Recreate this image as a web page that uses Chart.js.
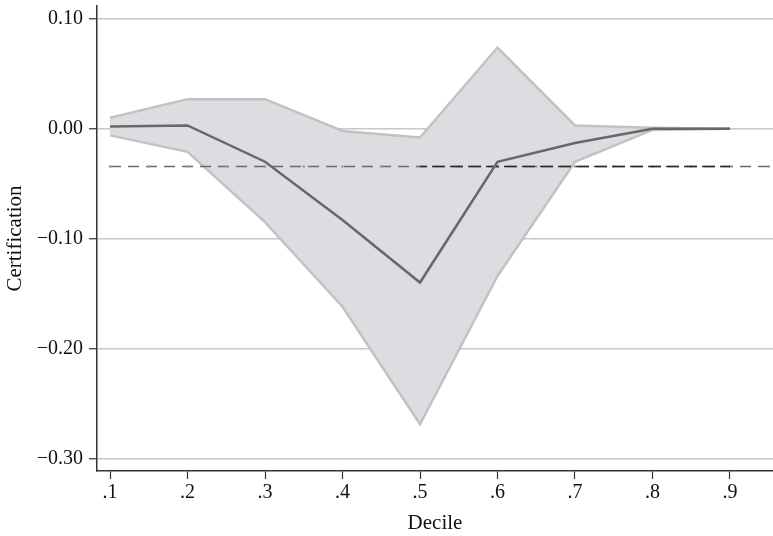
<!DOCTYPE html>
<html>
<head>
<meta charset="utf-8">
<script src="https://cdn.jsdelivr.net/npm/chart.js@4/dist/chart.umd.min.js"></script>
<style>
  body { margin: 0; background: #fff; }
  canvas { display: block; }
</style>
</head>
<body>
<canvas id="chart" width="773" height="536"></canvas>
<script>
// Deciles and estimates
const deciles = [0.1, 0.2, 0.3, 0.4, 0.5, 0.6, 0.7, 0.8, 0.9];
const estimate = [0.002, 0.003, -0.030, -0.083, -0.140, -0.030, -0.013, 0.000, 0.000];
const upperCI = [0.010, 0.027, 0.027, -0.002, -0.008, 0.074, 0.003, 0.001, 0.000];
const lowerCI = [-0.006, -0.021, -0.085, -0.162, -0.269, -0.134, -0.030, -0.001, 0.000];

// Horizontal reference (mean) line with small markers
const refX = [0.1, 0.15, 0.2, 0.25, 0.3, 0.35, 0.4, 0.45, 0.5, 0.55, 0.6, 0.65, 0.7, 0.75, 0.8, 0.85, 0.9, 0.95];
const refX2 = [0.5, 0.55, 0.6, 0.65, 0.7, 0.75, 0.8, 0.85, 0.9];
const refValue = -0.0343;

const yTicks = [-0.3, -0.2, -0.1, 0.0, 0.1];
const xTicks = [0.1, 0.2, 0.3, 0.4, 0.5, 0.6, 0.7, 0.8, 0.9];

const toPts = (xs, ys) => xs.map((x, i) => ({ x: x, y: ys[i] }));
const flat = (xs, v) => xs.map(x => ({ x: x, y: v }));

const serif = "'Liberation Serif', 'DejaVu Serif', serif";

const ctx = document.getElementById('chart').getContext('2d');
new Chart(ctx, {
  type: 'line',
  data: {
    datasets: [
      {
        label: 'Estimate',
        data: toPts(deciles, estimate),
        borderColor: '#686868',
        borderWidth: 2.5,
        pointRadius: 0,
        fill: false,
        order: 0
      },
      {
        label: 'Mean',
        data: flat(refX, refValue),
        borderColor: '#6a6a6a',
        borderWidth: 1.6,
        borderDash: [11, 7],
        pointRadius: 1.3,
        pointBackgroundColor: '#999',
        pointBorderWidth: 0,
        fill: false,
        order: 2
      },
      {
        label: 'Mean overlay',
        data: flat(refX2, refValue),
        borderColor: '#2a2a2a',
        borderWidth: 1.6,
        borderDash: [13, 5],
        borderDashOffset: 6,
        pointRadius: 0,
        fill: false,
        order: 1
      },
      {
        label: 'Upper',
        data: toPts(deciles, upperCI),
        borderColor: '#c2c2c2',
        borderWidth: 2.5,
        backgroundColor: '#dcdde0',
        pointRadius: 0,
        fill: '+1',
        order: 4
      },
      {
        label: 'Lower',
        data: toPts(deciles, lowerCI),
        borderColor: '#c2c2c2',
        borderWidth: 2.5,
        pointRadius: 0,
        fill: false,
        order: 3
      }
    ]
  },
  options: {
    responsive: false,
    animation: false,
    layout: { autoPadding: false, padding: { top: 6, right: 0, left: 0, bottom: 0 } },
    plugins: {
      legend: { display: false },
      tooltip: { enabled: false }
    },
    scales: {
      x: {
        type: 'linear',
        min: 0.0832,
        max: 0.9555,
        afterBuildTicks: axis => { axis.ticks = xTicks.map(v => ({ value: v })); },
        afterFit: axis => {
          axis.height = 65;
          axis.paddingLeft = 0;
          axis.paddingRight = 0;
        },
        border: { color: '#333', width: 1.5 },
        grid: { drawOnChartArea: false, tickLength: 8, tickColor: '#333', tickWidth: 1.2 },
        ticks: {
          color: '#111',
          padding: 2,
          font: { family: serif, size: 20 },
          callback: v => '.' + Math.round(v * 10)
        },
        title: {
          display: true,
          text: 'Decile',
          color: '#111',
          font: { family: serif, size: 21 },
          padding: { top: 0, bottom: 0 }
        }
      },
      y: {
        min: -0.3116,
        max: 0.1118,
        afterBuildTicks: axis => { axis.ticks = yTicks.map(v => ({ value: v })); },
        afterFit: axis => {
          axis.width = 97;
          axis.paddingTop = 0;
          axis.paddingBottom = 0;
        },
        border: { color: '#333', width: 1.5 },
        grid: { color: '#c8c8c8', lineWidth: 1.5, tickLength: 8, tickColor: '#333', tickWidth: 1.2 },
        ticks: {
          color: '#111',
          padding: 6,
          font: { family: serif, size: 20 },
          callback: v => {
            const s = Math.abs(v).toFixed(2);
            return v < -0.001 ? '\u2212' + s : s;
          }
        },
        title: {
          display: true,
          text: 'Certification',
          color: '#111',
          font: { family: serif, size: 21 },
          padding: { top: 3, bottom: 0 }
        }
      }
    }
  }
});
</script>
</body>
</html>
